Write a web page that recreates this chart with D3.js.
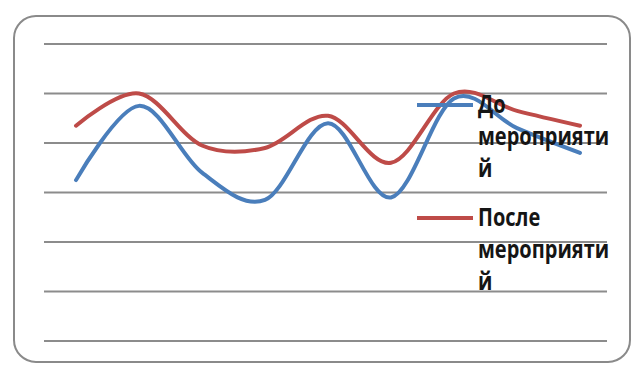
<!DOCTYPE html>
<html>
<head>
<meta charset="utf-8">
<script src="https://cdn.jsdelivr.net/npm/d3@7"></script>
<style>
  html, body { margin: 0; padding: 0; background: #ffffff; }
  svg { display: block; }
</style>
</head>
<body>
<svg id="chart" width="631" height="365"></svg>
<script>
// Nine measurement points, two series: before and after the measures
const categories = ["1", "2", "3", "4", "5", "6", "7", "8", "9"];
const beforeValues = [3.25, 4.75, 3.4, 2.85, 4.4, 2.9, 4.9, 4.3, 3.8];
const afterValues  = [4.35, 5.0, 3.95, 3.9, 4.55, 3.6, 5.0, 4.65, 4.35];
const gridTicks = [0, 1, 2, 3, 4, 5, 6];
const seriesNames = ["До мероприятий", "После мероприятий"];
// legend labels wrap inside the narrow legend column
const legendLines = [["До", "мероприяти", "й"], ["После", "мероприяти", "й"]];
const seriesColors = ["#4a7ebb", "#be4b48"];

const svg = d3.select("#chart");

// rounded frame of the chart area
svg.append("rect")
  .attr("x", 14).attr("y", 16)
  .attr("width", 616).attr("height", 346)
  .attr("rx", 22).attr("ry", 22)
  .attr("fill", "#ffffff")
  .attr("stroke", "#8a8a8a")
  .attr("stroke-width", 2);

const x = d3.scalePoint().domain(categories).range([76, 580]);
const y = d3.scaleLinear().domain([0, 6]).range([341, 44]);

// horizontal gridlines
svg.append("g")
  .selectAll("line")
  .data(gridTicks)
  .join("line")
  .attr("x1", 44).attr("x2", 607)
  .attr("y1", d => y(d)).attr("y2", d => y(d))
  .attr("stroke", "#8c8c8c")
  .attr("stroke-width", 2);

const line = d3.line()
  .x((d, i) => x(categories[i]))
  .y(d => y(d))
  .curve(d3.curveCardinal.tension(0));

[beforeValues, afterValues].forEach((vals, k) => {
  svg.append("path")
    .datum(vals)
    .attr("d", line)
    .attr("fill", "none")
    .attr("stroke", seriesColors[k])
    .attr("stroke-width", 4)
    .attr("stroke-linecap", "round")
    .attr("stroke-linejoin", "round");
});

// legend
const legendY = [105, 218];
const legend = svg.append("g");
legendLines.forEach((lines, k) => {
  const g = legend.append("g");
  g.append("line")
    .attr("x1", 417).attr("x2", 473)
    .attr("y1", legendY[k]).attr("y2", legendY[k])
    .attr("stroke", seriesColors[k])
    .attr("stroke-width", 4);
  const t = g.append("text")
    .attr("transform", `translate(478,${legendY[k] + 8}) scale(1,1.25)`)
    .attr("font-family", "'Open Sans', sans-serif")
    .attr("font-weight", 700)
    .attr("font-size", 20)
    .attr("fill", "#151515");
  t.append("title").text(seriesNames[k]);
  lines.forEach((s, i) => {
    t.append("tspan")
      .attr("x", 0)
      .attr("y", i * 25.5)
      .text(s);
  });
});
</script>
</body>
</html>
